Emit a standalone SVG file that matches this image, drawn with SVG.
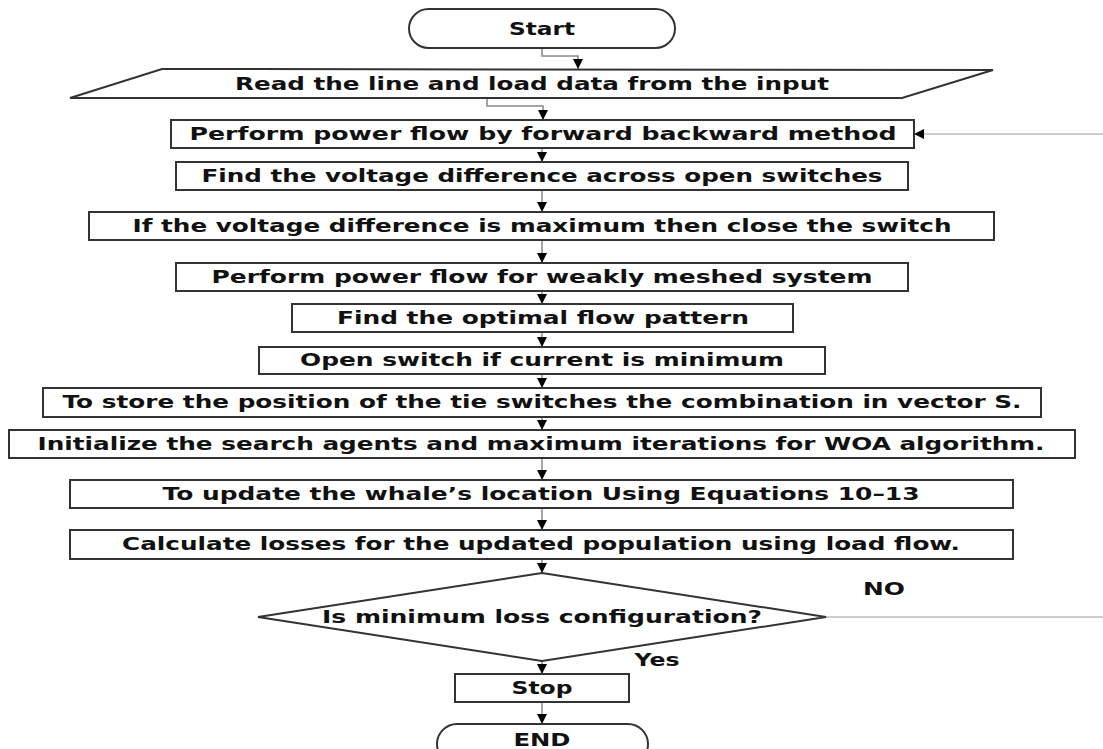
<svg xmlns="http://www.w3.org/2000/svg" width="1103" height="749" viewBox="0 0 1103 749">
<style>
.shape{fill:#fff;stroke:#333;stroke-width:2}
.t{font-family:"DejaVu Sans",Verdana,sans-serif;font-weight:bold;font-size:17px;fill:#111;text-anchor:middle}
.c{fill:none;stroke:#888;stroke-width:1.5}
.fb{fill:none;stroke:#bbb;stroke-width:1.5}
</style>
<defs>
<marker id="ah" viewBox="0 0 10 10" refX="10" refY="5" markerUnits="userSpaceOnUse" markerWidth="11" markerHeight="10" orient="auto">
<path d="M0,0 L10,5 L0,10 z" fill="#000"/>
</marker>
</defs>
<g id="connectors">
<path class="c" d="M542,48 V56 H578 V69" marker-end="url(#ah)"/>
<path class="c" d="M487,98 V106 H543 V120" marker-end="url(#ah)"/>
<path class="fb" d="M1103,134 H914" marker-end="url(#ah)"/>
<path class="c" d="M542,148 V162" marker-end="url(#ah)"/>
<path class="c" d="M542,190 V212" marker-end="url(#ah)"/>
<path class="c" d="M542,240 V263" marker-end="url(#ah)"/>
<path class="c" d="M542,291 V304" marker-end="url(#ah)"/>
<path class="c" d="M542,332 V347" marker-end="url(#ah)"/>
<path class="c" d="M542,374 V388" marker-end="url(#ah)"/>
<path class="c" d="M542,417 V430" marker-end="url(#ah)"/>
<path class="c" d="M542,458 V480" marker-end="url(#ah)"/>
<path class="c" d="M542,508 V530" marker-end="url(#ah)"/>
<path class="c" d="M542,559 V573" marker-end="url(#ah)"/>
<path class="c" d="M542,661 V674" marker-end="url(#ah)"/>
<path class="c" d="M542,702 V724" marker-end="url(#ah)"/>
<path class="fb" d="M826,617 H1103"/>
</g>
<g id="start"><rect class="shape" x="409" y="9" width="266" height="39" rx="19.5"/><text class="t" x="542" y="35" textLength="66" lengthAdjust="spacingAndGlyphs">Start</text></g>
<g id="read"><polygon class="shape" points="162,69 993,70 902,98 70,98"/><text class="t" x="532" y="90" textLength="594" lengthAdjust="spacingAndGlyphs">Read the line and load data from the input</text></g>
<g id="pf1"><rect class="shape" x="171" y="120" width="743" height="28"/><text class="t" x="543" y="140" textLength="707" lengthAdjust="spacingAndGlyphs">Perform power flow by forward backward method</text></g>
<g id="vd"><rect class="shape" x="176" y="162" width="732" height="28"/><text class="t" x="542" y="182" textLength="681" lengthAdjust="spacingAndGlyphs">Find the voltage difference across open switches</text></g>
<g id="close"><rect class="shape" x="89" y="212" width="905" height="28"/><text class="t" x="542" y="232" textLength="819" lengthAdjust="spacingAndGlyphs">If the voltage difference is maximum then close the switch</text></g>
<g id="pf2"><rect class="shape" x="176" y="263" width="732" height="28"/><text class="t" x="542" y="283" textLength="661" lengthAdjust="spacingAndGlyphs">Perform power flow for weakly meshed system</text></g>
<g id="opt"><rect class="shape" x="292" y="304" width="501" height="28"/><text class="t" x="543" y="324" textLength="412" lengthAdjust="spacingAndGlyphs">Find the optimal flow pattern</text></g>
<g id="open"><rect class="shape" x="259" y="347" width="566" height="27"/><text class="t" x="542" y="366" textLength="484" lengthAdjust="spacingAndGlyphs">Open switch if current is minimum</text></g>
<g id="store"><rect class="shape" x="43" y="388" width="998" height="29"/><text class="t" x="542" y="408" textLength="959" lengthAdjust="spacingAndGlyphs">To store the position of the tie switches the combination in vector S.</text></g>
<g id="init"><rect class="shape" x="9" y="430" width="1066" height="28"/><text class="t" x="541" y="450" textLength="1007" lengthAdjust="spacingAndGlyphs">Initialize the search agents and maximum iterations for WOA algorithm.</text></g>
<g id="update"><rect class="shape" x="70" y="480" width="943" height="28"/><text class="t" x="541" y="500" textLength="757" lengthAdjust="spacingAndGlyphs">To update the whale’s location Using Equations 10–13</text></g>
<g id="losses"><rect class="shape" x="70" y="530" width="943" height="29"/><text class="t" x="541" y="550" textLength="838" lengthAdjust="spacingAndGlyphs">Calculate losses for the updated population using load flow.</text></g>
<g id="decision"><polygon class="shape" points="542,573 826,617 542,661 258,617"/><text class="t" x="542" y="623" textLength="440" lengthAdjust="spacingAndGlyphs">Is minimum loss configuration?</text></g>
<g id="stop"><rect class="shape" x="455" y="674" width="174" height="28"/><text class="t" x="542" y="694" textLength="61" lengthAdjust="spacingAndGlyphs">Stop</text></g>
<g id="end"><rect class="shape" x="437" y="724" width="211" height="40" rx="20"/><text class="t" x="542" y="746" textLength="57" lengthAdjust="spacingAndGlyphs">END</text></g>
<g id="labels"><text class="t" x="657" y="666" textLength="45" lengthAdjust="spacingAndGlyphs">Yes</text><text class="t" x="884" y="595" textLength="42" lengthAdjust="spacingAndGlyphs">NO</text></g>
</svg>
